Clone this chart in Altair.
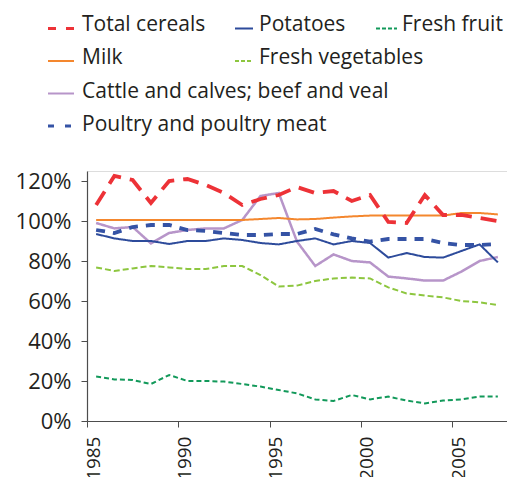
import altair as alt
import pandas as pd

years = list(range(1985, 2008))

series_names = [
    "Total cereals", "Potatoes", "Fresh fruit", "Milk",
    "Fresh vegetables", "Cattle and calves; beef and veal",
    "Poultry and poultry meat",
]

total_cereals = [108, 122.5, 120.5, 109, 120, 121, 118, 114, 108, 111, 113, 117,
                 114, 115, 110, 113, 99.5, 99, 113, 103, 103, 101.5, 100]
potatoes = [93.5, 91.3, 90, 90, 88.5, 90, 90, 91.3, 90.5, 89, 88.3, 90, 91.3,
            88.3, 90, 89, 81.7, 84, 82, 81.7, 85, 88.3, 79.3]
fresh_fruit = [22.2, 20.8, 20.5, 18.5, 23, 20, 20, 19.7, 18.5, 17.2, 15.5, 13.8,
               10.8, 10, 13, 10.8, 12.2, 10.2, 8.8, 10.2, 10.8, 12.2, 12.2]
milk = [100.5, 100.5, 100.5, 100.5, 100.5, 100.5, 100.5, 100.5, 100.5, 101,
        101.5, 100.8, 101, 101.7, 102.3, 102.7, 102.7, 102.7, 102.7, 102.7,
        104, 104, 103.3]
fresh_vegetables = [76.8, 75, 76.3, 77.5, 76.8, 76, 76, 77.5, 77.5, 73, 67.2,
                    67.7, 70, 71.3, 71.7, 71.3, 66.8, 63.8, 62.7, 61.8, 60,
                    59.3, 58]
cattle = [99, 96.3, 97, 88.8, 94, 95.5, 96.3, 96.3, 100.5, 112.5, 114, 89.7,
          77.5, 83.3, 80, 79.3, 72.2, 71.3, 70.2, 70.2, 74.7, 80, 82]
poultry = [95.5, 94, 97, 98, 98, 95.5, 95, 94, 93, 93, 93.5, 93.5, 96, 93.3,
           91.3, 89.7, 91, 91, 91, 89, 88, 88, 88.5]

y_ticks = [0, 0.2, 0.4, 0.6, 0.8, 1.0, 1.2]
x_ticks = [1985, 1990, 1995, 2000, 2005]

values_by_series = {
    "Total cereals": total_cereals,
    "Potatoes": potatoes,
    "Fresh fruit": fresh_fruit,
    "Milk": milk,
    "Fresh vegetables": fresh_vegetables,
    "Cattle and calves; beef and veal": cattle,
    "Poultry and poultry meat": poultry,
}

rows = []
for name, vals in values_by_series.items():
    for yr, v in zip(years, vals):
        rows.append({"series": name, "year": yr, "value": v})
df = pd.DataFrame(rows)

FONT = "Open Sans"
TXT = "#231f20"
AXC = "#4d4d4d"

styles = {
    "Total cereals": dict(color="#ed3237", strokeDash=[16, 9], strokeWidth=3.8),
    "Potatoes": dict(color="#2d4b9b", strokeDash=[1, 0], strokeWidth=2),
    "Fresh fruit": dict(color="#12995a", strokeDash=[5, 3], strokeWidth=2),
    "Milk": dict(color="#f4872e", strokeDash=[1, 0], strokeWidth=2),
    "Fresh vegetables": dict(color="#8dc63f", strokeDash=[6, 3], strokeWidth=2),
    "Cattle and calves; beef and veal": dict(color="#b795c9", strokeDash=[1, 0], strokeWidth=2.5),
    "Poultry and poultry meat": dict(color="#3553a5", strokeDash=[9, 8], strokeWidth=3.8),
}

x_enc = alt.X(
    "xpos:Q",
    scale=alt.Scale(domain=[1985, 2008], nice=False, zero=False),
    axis=alt.Axis(values=x_ticks, format="d", labelAngle=-90, title=None,
                  grid=False, tickSize=6, labelPadding=9, labelFontSize=19,
                  labelOffset=6, labelFont=FONT, labelColor=TXT,
                  domainColor=AXC, tickColor=AXC, domainWidth=1.2,
                  labelFlush=False),
)
y_enc = alt.Y(
    "v:Q",
    scale=alt.Scale(domain=[0, 1.25], nice=False),
    axis=alt.Axis(values=y_ticks, format=".0%", title=None, grid=False,
                  tickSize=6, labelPadding=10, labelFontSize=22, labelFont=FONT,
                  labelColor=TXT, domainColor=AXC, tickColor=AXC,
                  domainWidth=1.2, labelFontWeight=500),
)

draw_order = ["Fresh fruit", "Fresh vegetables", "Cattle and calves; beef and veal",
              "Potatoes", "Milk", "Poultry and poultry meat", "Total cereals"]

layers = []
for name in draw_order:
    st = styles[name]
    layers.append(
        alt.Chart(df)
        .transform_filter(alt.datum.series == name)
        .transform_calculate(xpos="datum.year + 0.5", v="datum.value / 100")
        .mark_line(strokeCap="butt", **st)
        .encode(x=x_enc, y=y_enc)
    )

# manual legend (layout in pixels relative to plot origin)
legend_layout = {
    "Total cereals": (-39, -13, -142.5, -5, -140),
    "Potatoes": (148, 166, -142.5, 172, -140),
    "Fresh fruit": (289, 310, -142.5, 315, -140),
    "Milk": (-39, -13, -110, -5, -106.7),
    "Fresh vegetables": (148, 166, -110, 172, -106.7),
    "Cattle and calves; beef and veal": (-39, -13, -77.5, -5, -73.5),
    "Poultry and poultry meat": (-39, -13, -45, -5, -40.3),
}
legend_dash = {
    "Total cereals": ([8, 10], 3),
    "Potatoes": ([1, 0], 1.8),
    "Fresh fruit": ([4, 2], 1.8),
    "Milk": ([1, 0], 1.8),
    "Fresh vegetables": ([4, 2], 1.8),
    "Cattle and calves; beef and veal": ([1, 0], 1.8),
    "Poultry and poultry meat": ([6, 11], 3),
}
for name in series_names:
    x1, x2, ys, xt, yt = legend_layout[name]
    dash, w = legend_dash[name]
    one = pd.DataFrame({"label": [name]})
    layers.append(
        alt.Chart(one).mark_rule(color=styles[name]["color"], strokeDash=dash,
                                 strokeWidth=w, strokeCap="butt")
        .encode(x=alt.value(x1), x2=alt.value(x2), y=alt.value(ys))
    )
    layers.append(
        alt.Chart(one).mark_text(align="left", baseline="alphabetic",
                                 fontSize=21, font=FONT, color=TXT)
        .encode(x=alt.value(xt), y=alt.value(yt), text="label:N")
    )

chart = (
    alt.layer(*layers)
    .properties(width=420, height=250, autosize="none",
                padding={"left": 79, "top": 163, "right": 0, "bottom": 56})
    .configure_view(stroke=None)
    .configure(background="white")
)

chart.save("out.html", embed_options={"renderer": "svg", "actions": False})
